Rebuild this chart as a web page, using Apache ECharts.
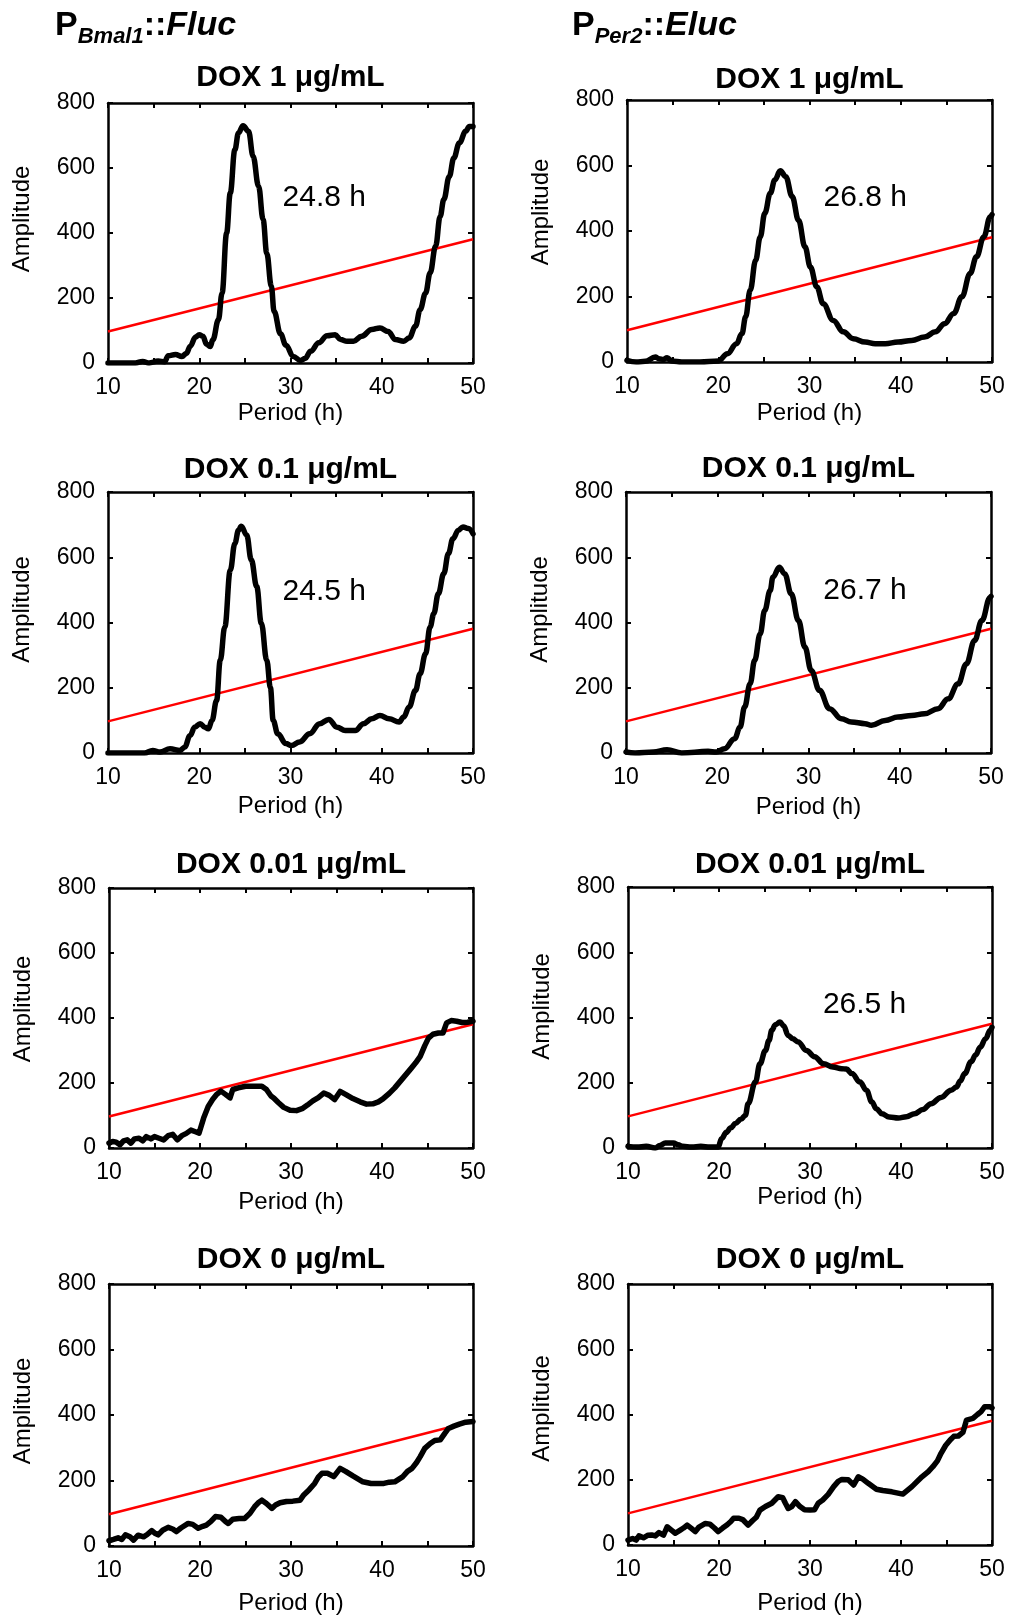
<!DOCTYPE html>
<html>
<head>
<meta charset="utf-8">
<script src="https://cdn.jsdelivr.net/npm/echarts@6/dist/echarts.min.js"></script>
<style>
  html, body { margin: 0; padding: 0; background: #fff; }
  #chart { width: 1010px; height: 1620px; }
</style>
</head>
<body>
<div id="chart"></div>
<script>
// values: [period (h), amplitude]
const periodTicks = [10, 20, 30, 40, 50];
const amplitudeTicks = [0, 200, 400, 600, 800];
const doses = ['DOX 1 μg/mL', 'DOX 0.1 μg/mL', 'DOX 0.01 μg/mL', 'DOX 0 μg/mL'];
const threshold = [[10, 97], [50, 381]];

const bmal1Dox1 = [[10,0],[11,0],[12,0],[13,0],[13.8,5],[14.5,0],[15.5,6],[16.2,4],[16.6,22],[17.4,26],[18.1,20],[18.6,30],[19,51],[19.6,80],[20,87],[20.4,82],[20.8,58],[21.2,51],[21.5,72],[22.1,133],[22.5,215],[23,400],[23.4,523],[23.9,656],[24.3,708],[24.8,730],[25.4,713],[25.9,636],[26.5,544],[27,441],[27.4,338],[27.9,236],[28.2,159],[28.9,90],[29.5,55],[30.3,20],[31.1,8],[31.6,14],[32.2,36],[33.1,62],[34,84],[34.9,87],[35.5,72],[36.2,67],[36.9,67],[37.8,82],[38.9,103],[39.8,108],[40.7,97],[41.5,72],[42.4,67],[43,77],[43.7,113],[44.2,164],[44.8,215],[45.3,277],[45.9,359],[46.4,451],[46.8,503],[47.4,574],[47.9,631],[48.5,677],[49.2,713],[49.6,728],[50,728]];
const bmal1Dox01 = [[10,0],[12,0],[14,0],[14.9,8],[15.7,3],[16.8,13],[17.9,8],[18.4,18],[19,54],[19.5,79],[20.1,90],[20.6,79],[21,74],[21.4,100],[21.9,161],[22.3,284],[22.8,386],[23.4,560],[23.9,642],[24.3,683],[24.6,695],[25.2,668],[25.7,592],[26.3,510],[26.8,398],[27.4,284],[27.8,200],[28.1,100],[28.6,59],[29.5,29],[30.1,23],[31,34],[32.1,59],[33.2,90],[34.2,103],[35.1,79],[36,69],[37.1,69],[38,90],[38.9,105],[39.8,115],[40.8,105],[41.9,95],[42.4,110],[43,141],[43.7,192],[44.2,243],[44.8,304],[45.3,386],[45.7,427],[46.2,488],[46.8,550],[47.3,611],[47.8,657],[48.4,683],[48.9,693],[49.5,688],[50,672]];
const bmal1Dox001 = [[10,15],[10.4,20],[10.8,18],[11.2,10],[11.6,22],[12,25],[12.4,15],[12.8,28],[13.3,30],[13.7,22],[14.1,35],[14.6,28],[15,35],[15.5,30],[16,25],[16.5,38],[17,42],[17.5,25],[18,38],[18.5,45],[19,55],[19.5,50],[19.9,46],[20.4,92],[20.9,128],[21.4,150],[21.8,164],[22.3,175],[22.8,165],[23.3,154],[23.6,180],[24.2,185],[25,190],[26,190],[26.8,190],[27.3,180],[27.8,160],[28.1,154],[28.6,140],[29.2,125],[29.9,116],[30.6,115],[31.3,122],[31.8,132],[32.4,145],[33,155],[33.6,169],[34.2,162],[34.8,149],[35.4,174],[36,165],[36.8,152],[37.6,142],[38.3,135],[39,136],[39.6,142],[40.1,151],[40.8,168],[41.4,185],[42,205],[42.6,225],[43.2,245],[43.7,262],[44.2,282],[44.7,315],[45.1,338],[45.6,350],[46.2,354],[46.7,354],[47.1,385],[47.6,392],[48.2,390],[48.8,386],[49.4,387],[50,390]];
const bmal1Dox0 = [[10,16],[10.5,20],[11,25],[11.4,20],[11.8,34],[12.3,28],[12.7,18],[13.2,33],[13.8,28],[14.2,35],[14.7,47],[15.1,38],[15.4,34],[15.9,48],[16.5,57],[17,52],[17.4,44],[17.9,55],[18.7,69],[19.2,66],[19.8,54],[20.3,60],[20.7,64],[21.2,75],[21.7,90],[22.3,88],[22.8,75],[23.1,69],[23.6,82],[24.3,84],[24.9,84],[25.5,100],[26,120],[26.4,132],[26.8,140],[27.3,130],[27.9,115],[28.3,125],[28.8,132],[29.5,136],[30.2,137],[31,140],[31.4,156],[32,172],[32.6,191],[33,210],[33.4,222],[34,222],[34.7,212],[35.4,237],[36,228],[36.8,214],[37.9,196],[38.8,191],[39.6,191],[40.2,191],[40.8,195],[41.4,196],[42.3,212],[42.8,228],[43.3,237],[43.8,255],[44.2,273],[44.7,298],[45.3,313],[45.8,322],[46.4,324],[46.9,344],[47.3,359],[47.9,366],[48.5,372],[49.2,378],[50,380]];

const per2Dox1 = [[10,5],[11,0],[12,2],[13.1,15],[13.5,10],[14,8],[14.4,13],[14.9,3],[16,0],[18,0],[20,3],[21,25],[22,56],[22.6,87],[23,138],[23.5,219],[24.1,311],[24.6,382],[25.1,454],[25.7,515],[26.2,556],[26.8,584],[27.4,566],[28.1,505],[28.8,433],[29.5,352],[30.1,290],[30.8,229],[31.5,178],[32.6,127],[33.7,92],[34.8,71],[36.1,61],[37.2,56],[38.3,56],[39.7,61],[41.2,66],[42.6,76],[43.8,92],[44.8,117],[45.8,148],[46.7,199],[47.6,270],[48.3,321],[49.1,382],[49.8,443],[50,450]];
const per2Dox01 = [[10,3],[11,0],[13,3],[14.5,10],[16.1,0],[19,5],[19.9,3],[20.8,13],[21.9,44],[22.5,79],[23,141],[23.6,212],[24.1,284],[24.7,365],[25.2,437],[25.8,498],[26.1,539],[26.8,569],[27.4,549],[28.1,488],[28.9,406],[29.6,325],[30.3,253],[31.2,192],[32.3,136],[33.6,105],[34.7,95],[36.2,90],[36.9,85],[38.4,100],[39.8,110],[41.3,115],[42.7,120],[44.2,136],[45.3,166],[46.4,212],[47.3,273],[48.2,345],[49,406],[49.9,477],[50,480]];
const per2Dox001 = [[10,5],[11,3],[12,5],[13,0],[13.5,8],[14.1,15],[15,15],[15.5,10],[16,5],[17,3],[18,5],[19,3],[19.9,3],[20.3,29],[20.8,48],[21.3,62],[21.8,75],[22.4,88],[22.9,100],[23.2,136],[24,202],[24.5,258],[25.1,299],[25.5,330],[25.8,361],[26.2,378],[26.7,386],[27.1,375],[27.6,345],[28.1,335],[28.7,325],[29.6,299],[30.5,280],[31.5,258],[32.5,248],[33.5,243],[34,242],[34.6,228],[35.5,202],[36.2,177],[36.8,141],[37.3,120],[37.9,105],[38.7,95],[39.7,92],[40.6,96],[41.5,105],[42.4,118],[43.3,136],[44.4,155],[45.5,177],[46.1,187],[46.5,205],[47,228],[47.7,264],[48.2,285],[48.7,309],[49.3,335],[49.8,361],[50,370]];
const per2Dox0 = [[10,15],[10.5,20],[10.9,15],[11.2,28],[11.7,22],[12.2,30],[12.6,31],[13,28],[13.4,38],[13.9,30],[14.3,56],[14.8,45],[15.2,36],[15.7,45],[16.1,52],[16.5,61],[17,50],[17.4,41],[17.8,55],[18.5,66],[19,64],[19.5,52],[19.9,41],[20.4,52],[20.9,62],[21.3,72],[21.6,82],[22.2,82],[22.6,78],[23.2,61],[23.7,75],[24.1,85],[24.5,107],[25.1,118],[25.8,128],[26.5,148],[27,145],[27.3,128],[27.6,112],[28,118],[28.4,133],[28.9,118],[29.4,108],[30,107],[30.5,108],[30.9,128],[31.4,138],[32,155],[32.6,179],[33.1,195],[33.5,201],[34.2,200],[34.8,184],[35.3,209],[35.8,202],[36.4,189],[37.3,171],[38,167],[39,163],[40.2,156],[41.2,179],[42.3,209],[43,225],[43.5,240],[44,258],[44.4,281],[44.9,305],[45.4,322],[45.8,333],[46.3,334],[46.8,345],[47.2,383],[47.6,386],[47.9,388],[48.4,400],[48.8,409],[49.2,424],[49.8,424],[50,420]];

const bmal1Peaks = ['24.8 h', '24.5 h', '', ''];
const per2Peaks = ['26.8 h', '26.7 h', '26.5 h', ''];

const FONT = "'Liberation Sans', Arial, sans-serif";

// panel order: row by row, Bmal1 left / Per2 right
const panels = [
  { data: bmal1Dox1, peak: bmal1Peaks[0], smooth: true },
  { data: per2Dox1, peak: per2Peaks[0], smooth: true },
  { data: bmal1Dox01, peak: bmal1Peaks[1], smooth: true },
  { data: per2Dox01, peak: per2Peaks[1], smooth: true },
  { data: bmal1Dox001, peak: bmal1Peaks[2], smooth: false },
  { data: per2Dox001, peak: per2Peaks[2], smooth: true },
  { data: bmal1Dox0, peak: bmal1Peaks[3], smooth: false },
  { data: per2Dox0, peak: per2Peaks[3], smooth: false }
];

// plot boxes and label placement
const layout = [
  { left: 108, top: 103, width: 365, height: 260, titleY: 78, nameGap: 38, ampShift: 14, peakAt: [33.7, 508] },
  { left: 627, top: 100, width: 365, height: 262, titleY: 80, nameGap: 39, ampShift: 19, peakAt: [36.1, 501] },
  { left: 108, top: 492, width: 365, height: 261, titleY: 470, nameGap: 41, ampShift: 13, peakAt: [33.7, 493] },
  { left: 626, top: 492, width: 365, height: 261, titleY: 469, nameGap: 42, ampShift: 13, peakAt: [36.2, 497] },
  { left: 109, top: 888, width: 364, height: 260, titleY: 865, nameGap: 42, ampShift: 9, peakAt: null },
  { left: 628, top: 887, width: 364, height: 261, titleY: 865, nameGap: 35, ampShift: 11, peakAt: [36.0, 438] },
  { left: 109, top: 1284, width: 364, height: 262, titleY: 1260, nameGap: 45, ampShift: 4, peakAt: null },
  { left: 628, top: 1284, width: 364, height: 261, titleY: 1260, nameGap: 46, ampShift: 6, peakAt: null }
];

const chart = echarts.init(document.getElementById('chart'));

const grid = [], xAxis = [], yAxis = [], series = [];
const graphic = [];

const headerRich = {
  p: { fontFamily: FONT, fontSize: 34, fontWeight: 'bold', color: '#000', lineHeight: 44 },
  s: { fontFamily: FONT, fontSize: 22, fontWeight: 'bold', fontStyle: 'italic', color: '#000', lineHeight: 26, verticalAlign: 'bottom' },
  i: { fontFamily: FONT, fontSize: 34, fontWeight: 'bold', fontStyle: 'italic', color: '#000', lineHeight: 44 }
};
graphic.push({
  type: 'text', x: 55, y: 4,
  style: { text: '{p|P}{s|Bmal1}{p|::}{i|Fluc}', rich: headerRich, verticalAlign: 'top' }
});
graphic.push({
  type: 'text', x: 572, y: 4,
  style: { text: '{p|P}{s|Per2}{p|::}{i|Eluc}', rich: headerRich, verticalAlign: 'top' }
});

layout.forEach(function (g, i) {
  const panel = panels[i];
  const row = Math.floor(i / 2);
  grid.push({ left: g.left, top: g.top, width: g.width, height: g.height });

  const axisLine = { show: true, onZero: false, lineStyle: { color: '#000', width: 2.5 } };
  const axisTick = { show: true, inside: true, length: 5, lineStyle: { color: '#000', width: 2 } };
  const labelStyle = { color: '#000', fontSize: 23, fontFamily: FONT, margin: 13 };
  const nameStyle = { color: '#000', fontSize: 24, fontFamily: FONT };

  xAxis.push({
    gridIndex: i, type: 'value', position: 'bottom', min: 10, max: 50, interval: 5,
    axisLine: axisLine, axisTick: axisTick, splitLine: { show: false },
    axisLabel: Object.assign({}, labelStyle, {
      formatter: function (v) { return periodTicks.indexOf(v) >= 0 ? String(v) : ''; }
    }),
    name: 'Period (h)', nameLocation: 'middle', nameGap: g.nameGap, nameTextStyle: nameStyle
  });
  xAxis.push({
    gridIndex: i, type: 'value', position: 'top', min: 10, max: 50, interval: 5,
    axisLine: axisLine, axisTick: axisTick, splitLine: { show: false }, axisLabel: { show: false }
  });
  yAxis.push({
    gridIndex: i, type: 'value', position: 'left', min: 0, max: 800, interval: 200,
    axisLine: axisLine, axisTick: axisTick, splitLine: { show: false },
    axisLabel: Object.assign({}, labelStyle, {
      formatter: function (v) { return amplitudeTicks.indexOf(v) >= 0 ? String(v) : ''; }
    }),
    name: 'Amplitude', nameLocation: 'middle', nameGap: 74,
    nameTextStyle: Object.assign({}, nameStyle, { padding: [0, 0, 0, 2 * g.ampShift] })
  });
  yAxis.push({
    gridIndex: i, type: 'value', position: 'right', min: 0, max: 800, interval: 200,
    axisLine: axisLine, axisTick: axisTick, splitLine: { show: false }, axisLabel: { show: false }
  });

  // significance threshold
  series.push({
    type: 'line', xAxisIndex: 2 * i, yAxisIndex: 2 * i, data: threshold,
    symbol: 'none', silent: true, z: 2,
    lineStyle: { color: '#ff0000', width: 2.5 }
  });

  const s = {
    type: 'line', xAxisIndex: 2 * i, yAxisIndex: 2 * i, data: panel.data,
    symbol: 'none', silent: true, z: 3,
    smooth: panel.smooth ? 0.4 : false, smoothMonotone: 'x',
    lineStyle: { color: '#000', width: 5.5, cap: 'round', join: 'round' }
  };
  if (panel.peak && g.peakAt) {
    s.markPoint = {
      symbol: 'rect', symbolSize: 1, silent: true,
      itemStyle: { color: 'rgba(0,0,0,0)' },
      label: { show: true, position: 'inside', formatter: panel.peak, color: '#000', fontSize: 30, fontFamily: FONT },
      data: [{ coord: g.peakAt }]
    };
  }
  series.push(s);

  graphic.push({
    type: 'text', x: g.left + g.width / 2, y: g.titleY,
    style: {
      text: doses[row], fill: '#000', align: 'center', verticalAlign: 'middle',
      font: 'bold 30px ' + FONT
    }
  });
});

chart.setOption({
  backgroundColor: '#fff',
  animation: false,
  grid: grid,
  xAxis: xAxis,
  yAxis: yAxis,
  series: series,
  graphic: graphic
});
</script>
</body>
</html>
